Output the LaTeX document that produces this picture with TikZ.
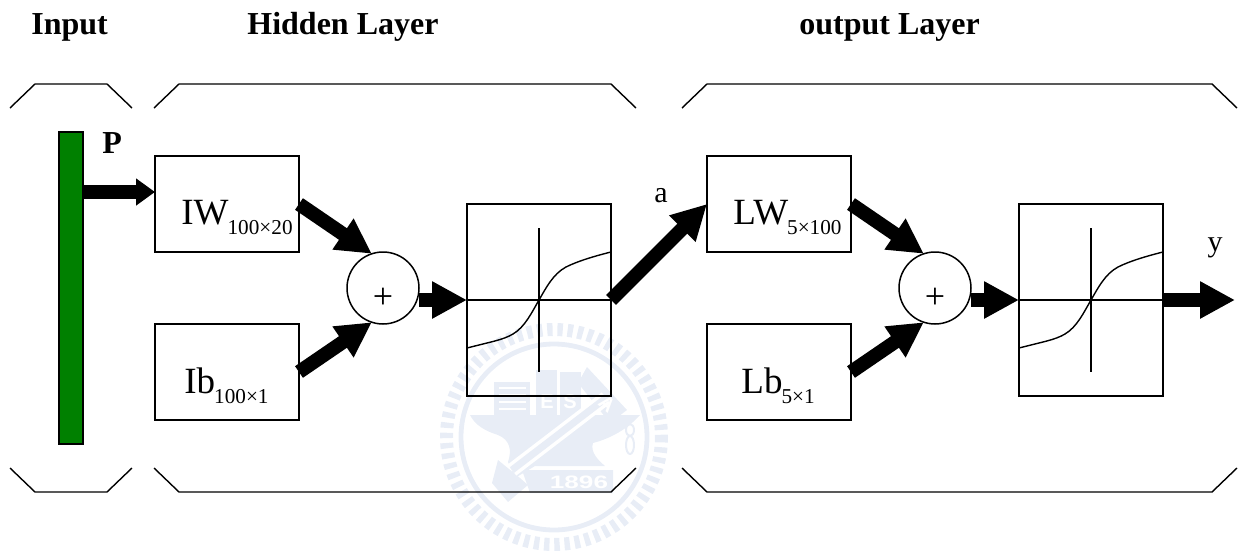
\documentclass[tikz,border=0pt]{standalone}
\usepackage{fontspec}
\setmainfont{Liberation Serif}
\setsansfont{Liberation Sans}
\usetikzlibrary{arrows.meta}
\definecolor{wm}{RGB}{232,237,246}
\definecolor{barg}{RGB}{0,128,0}
\newcommand{\blocklabel}[2]{{\fontsize{18.5}{18.5}\selectfont #1}\kern-0.5pt\raisebox{-5pt}{\fontsize{10.6}{10.6}\selectfont #2}}
\tikzset{
  x=0.5pt,y=-0.5pt,
  boxn/.style={draw,line width=0.75pt,minimum width=72pt,minimum height=48pt,inner sep=0pt,outer sep=0pt},
  sumn/.style={draw,circle,line width=0.75pt,minimum size=36pt,inner sep=0pt,outer sep=0pt},
  tfn/.style={draw,line width=0.75pt,minimum width=72pt,minimum height=96pt,inner sep=0pt,outer sep=0pt},
  fat/.style={line width=7pt,-{Triangle[length=17.5pt,width=17.5pt]}},
  fatsmall/.style={line width=7pt,-{Triangle[length=9.5pt,width=13pt]}},
  brk/.style={line width=0.7pt},
  head/.style={font=\fontsize{16}{16}\selectfont\bfseries,inner sep=0pt},
  lab/.style={font=\fontsize{15}{15}\selectfont,inner sep=0pt},
  plusn/.style={font=\fontsize{18}{18}\selectfont,inner sep=0pt},
  blockt/.style={anchor=base west,inner sep=0pt},
  curve/.style={line width=0.7pt},
}
\begin{document}
\begin{tikzpicture}
\useasboundingbox (0,0) rectangle (1248,552);
% watermark
\begin{scope}
  \draw[wm,line width=2.4pt] (554,437) circle[radius=93];
  \draw[wm,line width=6.5pt,dash pattern=on 2.7pt off 2.4pt] (554,437) circle[radius=107.5];
  \fill[wm] (470,415) -- (640,415) .. controls (625,432) and (605,440) .. (593,443) .. controls (590,452) and (598,460) .. (605,466) -- (535,466) -- (515,478) -- (508,462) .. controls (512,450) and (510,440) .. (498,435) .. controls (485,431) and (475,425) .. cycle;
  \fill[wm] (498,460) -- (520,478) -- (528,485) -- (508,502) -- (492,483) -- cycle;
  \fill[wm] (522,470) -- (613,470) -- (613,493) -- (530,493) -- cycle;
  \fill[wm] (494,382) rectangle (530,415);
  \foreach \ly in {388,395,402,409} \draw[white,line width=0.8pt] (499,\ly) -- (526,\ly);
  \fill[wm] (536,370) rectangle (557,415);
  \fill[wm] (560,372) rectangle (581,415);
  \fill[wm] (587,367) -- (627,410) -- (610,423) -- (578,383) -- cycle;
  \draw[white,line width=7pt] (512,470) -- (606,398);
  \draw[wm,line width=3.5pt] (512,470) -- (606,398);
  \draw[wm,line width=1pt] (630,430) ellipse[x radius=4,y radius=6];
  \draw[wm,line width=1pt] (630,445) ellipse[x radius=4,y radius=9];
  \node[text=white,font=\fontsize{9}{9}\selectfont\sffamily\bfseries,inner sep=0pt,xscale=1.45] (wmyear) at (579,482) {1896};
  \node[text=white,font=\fontsize{10}{10}\selectfont\sffamily\bfseries,inner sep=0pt] (wme) at (547,402) {E};
  \node[text=white,font=\fontsize{10}{10}\selectfont\sffamily\bfseries,inner sep=0pt] (wms) at (570,402) {S};
  \node[text=white,font=\fontsize{10}{10}\selectfont\sffamily\bfseries,inner sep=0pt,rotate=-40] (wma) at (607,404) {A};
\end{scope}
% brackets
\draw[brk] (10,108) -- (35,84) -- (107,84) -- (132,108);
\draw[brk] (154,108) -- (179,84) -- (611,84) -- (636,108);
\draw[brk] (682,108) -- (707,84) -- (1212,84) -- (1237,108);
\draw[brk] (10,468) -- (35,492) -- (107,492) -- (132,468);
\draw[brk] (154,468) -- (179,492) -- (611,492) -- (636,468);
\draw[brk] (682,468) -- (707,492) -- (1212,492) -- (1237,468);
% headings
\node[head,anchor=base west] (hin) at (31,34) {Input};
\node[head,anchor=base west] (hhid) at (247,34) {Hidden Layer};
\node[head,anchor=base west] (hout) at (799,34) {output Layer};
% bar
\node[draw,fill=barg,line width=0.75pt,minimum width=12pt,minimum height=156pt,inner sep=0pt,outer sep=0pt] (bar) at (71,288) {};
\node[head,anchor=base west] (pl) at (102,153) {P};
% boxes
\node[boxn] (iw) at (227,204) {};
\node[boxn] (ib) at (227,372) {};
\node[boxn] (lw) at (779,204) {};
\node[boxn] (lb) at (779,372) {};
\node[blockt] (iwt) at (181,224) {\blocklabel{IW}{100×20}};
\node[blockt] (ibt) at (184,393) {\blocklabel{Ib}{100×1}};
\node[blockt] (lwt) at (733,224) {\blocklabel{LW}{5×100}};
\node[blockt] (lbt) at (741,393) {\blocklabel{Lb}{5×1}};
% sums
\node[sumn] (s1) at (383,288) {};
\node[sumn] (s2) at (935,288) {};
\node[plusn] (p1) at (383,298) {+};
\node[plusn] (p2) at (935,298) {+};
% transfer boxes
\node[tfn] (t1) at (539,300) {};
\node[tfn] (t2) at (1091,300) {};
\foreach \n in {t1,t2}{
  \draw[curve] (\n.west) -- (\n.east);
  \draw[curve] ([yshift=36pt]\n.center) -- ([yshift=-36pt]\n.center);
}
\draw[curve] (467,348) .. controls (490,342) and (503,340) .. (513,334) .. controls (525,327) and (532,312) .. (539,300) .. controls (546,288) and (553,274) .. (566,267) .. controls (578,261) and (595,256) .. (611,252);
\draw[curve] (1019,348) .. controls (1042,342) and (1055,340) .. (1065,334) .. controls (1077,327) and (1084,312) .. (1091,300) .. controls (1098,288) and (1105,274) .. (1118,267) .. controls (1130,261) and (1147,256) .. (1163,252);
% connectors
\coordinate (yout) at (1235,300);
\coordinate (pin) at (155,192);
\draw[fatsmall] (bar.east |- pin) -- (pin);
\draw[fat] (iw.east) -- (s1.108);
\draw[fat] (ib.east) -- (s1.252);
\draw[fat] (s1.east |- t1.west) -- (t1.west);
\draw[fat] (t1.east) -- (lw.west);
\draw[fat] (lw.east) -- (s2.108);
\draw[fat] (lb.east) -- (s2.252);
\draw[fat] (s2.east |- t2.west) -- (t2.west);
\draw[fat] (t2.east) -- (yout);
\node[lab,anchor=base] (al) at (661,202) {a};
\node[lab,anchor=base] (yl) at (1215,251) {y};
\end{tikzpicture}
\end{document}
